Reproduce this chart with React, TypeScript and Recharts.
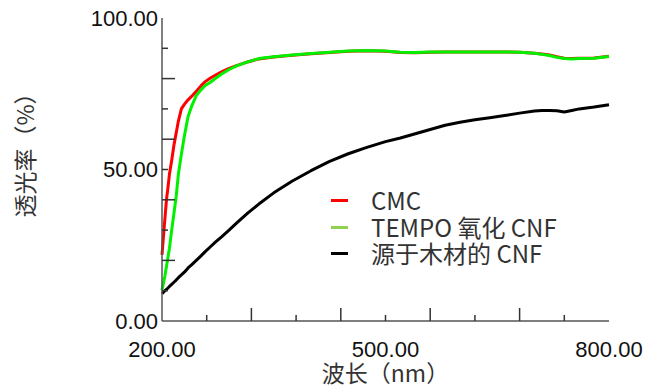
import React from 'react';
import { LineChart, Line, XAxis, YAxis, Legend } from 'recharts';

const wavelengths = [200, 202, 204, 206, 208, 210, 213, 216, 219, 222, 226, 230, 235, 240, 246, 252, 258, 265, 272, 280, 290, 300, 315, 330, 350, 375, 400, 425, 450, 475, 500, 520, 540, 560, 580, 600, 620, 640, 660, 680, 700, 710, 720, 730, 740, 750, 760, 780, 800];

const cmc = [21.8, 28, 34, 40, 44, 48.5, 53, 58, 62, 66, 70, 71.5, 73, 74.2, 75.8, 77.5, 79, 80.2, 81.2, 82.2, 83.4, 84.3, 85.5, 86.5, 87.1, 87.7, 88.2, 88.6, 89.0, 89.2, 89.0, 88.6, 88.5, 88.7, 88.8, 88.8, 88.8, 88.8, 88.8, 88.7, 88.4, 88.1, 87.8, 87.2, 86.7, 86.6, 86.7, 86.8, 87.4];

const tempo = [10.2, 12.5, 15, 18, 21, 24, 30, 35.5, 41, 48.5, 55, 61, 67.5, 71, 74.4, 76.2, 77.7, 78.8, 80.1, 81.5, 83, 84.2, 85.5, 86.6, 87.2, 87.8, 88.3, 88.7, 89.1, 89.3, 89.1, 88.7, 88.6, 88.8, 88.8, 88.8, 88.8, 88.8, 88.8, 88.7, 88.4, 88.0, 87.6, 87.0, 86.6, 86.5, 86.6, 86.7, 87.3];

const wood = [9.0, 9.5, 10, 10.4, 10.9, 11.4, 12.1, 12.8, 13.5, 14.3, 15.2, 16.1, 17.5, 18.6, 20.0, 21.4, 22.9, 24.5, 26.1, 27.8, 30, 32.3, 35.6, 38.6, 42.3, 46.2, 49.6, 52.7, 55.2, 57.3, 59.2, 60.4, 61.8, 63.2, 64.6, 65.6, 66.4, 67.1, 67.8, 68.6, 69.3, 69.5, 69.5, 69.4, 69.0, 69.5, 70.0, 70.6, 71.4];

const seriesNames = ['CMC', 'TEMPO 氧化 CNF', '源于木材的 CNF'];
const seriesKeys = ['cmc', 'tempo', 'wood'];
const lineColors = ['#ff0000', '#00f000', '#000000'];
const legendColors = ['#ff0000', '#92d050', '#000000'];

const xTicks = [200, 260, 320, 380, 440, 500, 560, 620, 680, 740, 800];
const xLongTicks = [320, 440, 560, 680];
const xLabelTicks = [200, 500, 800];
const yTicks = [0, 10, 20, 30, 40, 50, 60, 70, 80, 90, 100];
const yLongTicks = [20, 40, 60, 80];
const yLabelTicks = [0, 50, 100];

const xTitle = '波长（nm）';
const yTitle = '透光率（%）';

const data = wavelengths.map((wl, i) => ({ wl, cmc: cmc[i], tempo: tempo[i], wood: wood[i] }));

const TICK_FONT = '"Liberation Sans", Arial, sans-serif';
const CJK_FONT = '"Noto Sans CJK SC", "Noto Sans", sans-serif';
const TICK_COLOR = '#333';
const LONG = 13;
const SHORT = 6;

const BottomTick = (props: any) => {
  const { x, y, payload } = props;
  const v = payload.value;
  const len = xLongTicks.includes(v) ? LONG : SHORT;
  const showTick = v !== 200 && v !== 800;
  return (
    <g>
      {showTick && <line x1={x} x2={x} y1={y} y2={y - len} stroke={TICK_COLOR} strokeWidth={1.5} />}
      {xLabelTicks.includes(v) && (
        <text x={x} y={y + 36} textAnchor="middle" fontFamily={TICK_FONT} fontSize={22} fill="#111">
          {v.toFixed(2)}
        </text>
      )}
    </g>
  );
};

const TopTick = (props: any) => {
  const { x, y, payload } = props;
  const v = payload.value;
  const len = xLongTicks.includes(v) ? LONG : SHORT;
  if (v === 200 || v === 800) return <g />;
  return <line x1={x} x2={x} y1={y} y2={y + len} stroke={TICK_COLOR} strokeWidth={1.5} />;
};

const LeftTick = (props: any) => {
  const { x, y, payload } = props;
  const v = payload.value;
  const len = yLongTicks.includes(v) ? LONG : SHORT;
  const showTick = v !== 0 && v !== 100;
  return (
    <g>
      {showTick && <line x1={x} x2={x + len} y1={y} y2={y} stroke={TICK_COLOR} strokeWidth={1.5} />}
      {yLabelTicks.includes(v) && (
        <text x={x - 4} y={y} dy="0.36em" textAnchor="end" fontFamily={TICK_FONT} fontSize={22} fill="#111">
          {v.toFixed(2)}
        </text>
      )}
    </g>
  );
};

const RightTick = (props: any) => {
  const { x, y, payload } = props;
  const v = payload.value;
  const len = yLongTicks.includes(v) ? LONG : SHORT;
  if (v === 0 || v === 100) return <g />;
  return <line x1={x} x2={x - len} y1={y} y2={y} stroke={TICK_COLOR} strokeWidth={1.5} />;
};

const XTitle = (props: any) => {
  const vb = props.viewBox || { x: 0, y: 0, width: 0, height: 0 };
  return (
    <text x={vb.x + vb.width / 2} y={vb.y + 53} dy="0.35em" textAnchor="middle" fontFamily={CJK_FONT} fontSize={23} fill="#333">
      {xTitle}
    </text>
  );
};

const YTitle = (props: any) => {
  const vb = props.viewBox || { x: 0, y: 0, width: 0, height: 0 };
  const cx = vb.x + 26;
  const cy = vb.y + vb.height / 2 - 20;
  return (
    <text x={cx} y={cy} dy="0.35em" textAnchor="middle" fontFamily={CJK_FONT} fontSize={23} fill="#333" transform={`rotate(-90 ${cx} ${cy})`}>
      {yTitle}
    </text>
  );
};

const LegendContent = () => (
  <div style={{ fontFamily: CJK_FONT, fontSize: 24, color: '#333' }}>
    {seriesNames.map((name, i) => (
      <div key={name} style={{ display: 'flex', alignItems: 'center', height: 26.7, lineHeight: '26.7px', whiteSpace: 'nowrap' }}>
        <span style={{ display: 'inline-block', width: 17, height: 3, background: legendColors[i], marginRight: 23 }} />
        <span>{name}</span>
      </div>
    ))}
  </div>
);

export default function App() {
  return (
    <div style={{ position: 'absolute', left: 0, top: 0, width: 659, height: 390, background: '#fff' }}>
      <LineChart width={659} height={390} data={data} margin={{ top: 18, right: 50, bottom: 0, left: 0 }}>
        <XAxis
          xAxisId="bottom"
          dataKey="wl"
          type="number"
          domain={[200, 800]}
          ticks={xTicks}
          interval={0}
          height={69}
          tickSize={0}
          tickMargin={0}
          tickLine={false}
          axisLine={{ stroke: '#555', strokeWidth: 1.5 }}
          tick={<BottomTick />}
          label={<XTitle />}
        />
        <XAxis
          xAxisId="top"
          orientation="top"
          dataKey="wl"
          type="number"
          domain={[200, 800]}
          ticks={xTicks}
          interval={0}
          height={0}
          tickSize={0}
          tickMargin={0}
          tickLine={false}
          axisLine={{ stroke: '#555', strokeWidth: 1.5 }}
          tick={<TopTick />}
        />
        <YAxis
          yAxisId="left"
          type="number"
          domain={[0, 100]}
          ticks={yTicks}
          interval={0}
          width={162}
          tickSize={0}
          tickMargin={0}
          tickLine={false}
          axisLine={{ stroke: '#555', strokeWidth: 1.5 }}
          tick={<LeftTick />}
          label={<YTitle />}
        />
        <YAxis
          yAxisId="right"
          orientation="right"
          type="number"
          domain={[0, 100]}
          ticks={yTicks}
          interval={0}
          width={0}
          tickSize={0}
          tickMargin={0}
          tickLine={false}
          axisLine={{ stroke: '#555', strokeWidth: 1.5 }}
          tick={<RightTick />}
        />
        <Legend
          layout="vertical"
          align="center"
          verticalAlign="middle"
          content={<LegendContent />}
          wrapperStyle={{ position: 'absolute', left: 331, top: 187, width: 260, height: 81 }}
        />
        <Line xAxisId="top" yAxisId="right" dataKey="wood" stroke="none" dot={false} activeDot={false} legendType="none" isAnimationActive={false} />
        <Line xAxisId="bottom" yAxisId="left" dataKey={seriesKeys[2]} name={seriesNames[2]} stroke={lineColors[2]} strokeWidth={3} dot={false} activeDot={false} isAnimationActive={false} strokeLinejoin="round" />
        <Line xAxisId="bottom" yAxisId="left" dataKey={seriesKeys[0]} name={seriesNames[0]} stroke={lineColors[0]} strokeWidth={3} dot={false} activeDot={false} isAnimationActive={false} strokeLinejoin="round" />
        <Line xAxisId="bottom" yAxisId="left" dataKey={seriesKeys[1]} name={seriesNames[1]} stroke={lineColors[1]} strokeWidth={3} dot={false} activeDot={false} isAnimationActive={false} strokeLinejoin="round" />
      </LineChart>
    </div>
  );
}
